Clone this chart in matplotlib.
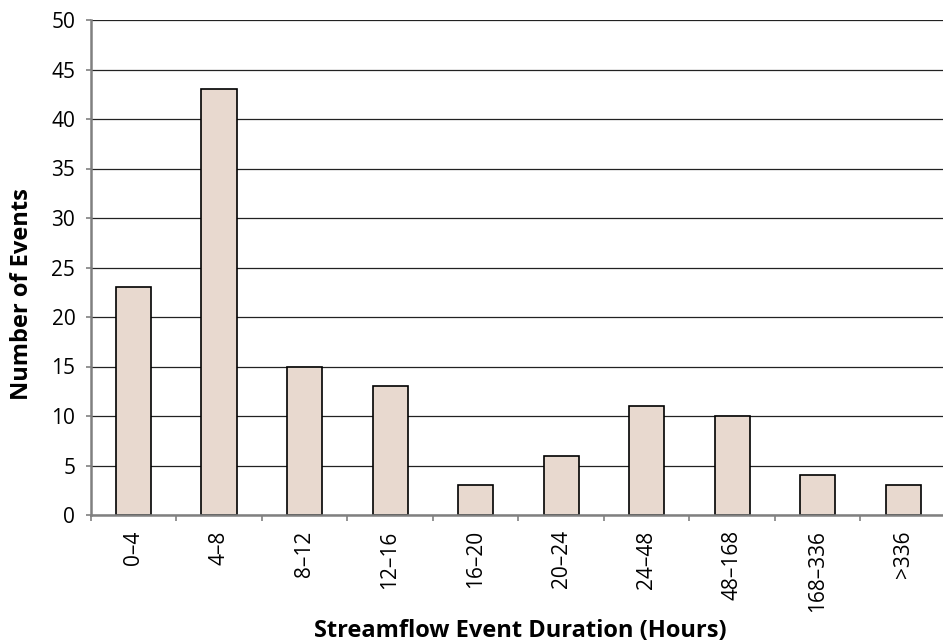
import matplotlib.pyplot as plt
import numpy as np

categories = ['0\u20134', '4\u20138', '8\u201312', '12\u201316', '16\u201320', '20\u201324',
              '24\u201348', '48\u2013168', '168\u2013336', '>336']
events = [23, 43, 15, 13, 3, 6, 11, 10, 4, 3]
yticks = [0, 5, 10, 15, 20, 25, 30, 35, 40, 45, 50]

plt.rcParams['font.family'] = ['Open Sans', 'DejaVu Sans']

fig = plt.figure(figsize=(9.43, 6.44), dpi=100)
ax_left, ax_w = 90.7, 946 - 90.7
ax = fig.add_axes([ax_left / 943, 129 / 644, ax_w / 943, 495 / 644])

x = np.arange(len(categories))
ax.bar(x, events, width=0.41, color='#e8d9cf', edgecolor='black', linewidth=1.2, zorder=3)

ax.set_xlim(-0.5, len(categories) - 0.5)
ax.set_ylim(0, 50)
ax.set_yticks(yticks)
ax.yaxis.grid(True, color='#222222', linewidth=0.9, zorder=0)

ax.set_xticks(x)
ax.set_xticklabels(categories, rotation=90, fontsize=15)
ax.tick_params(axis='x', length=0, pad=11)
ax.set_xticks(np.arange(len(categories)) - 0.5, minor=True)
ax.tick_params(axis='x', which='minor', length=4.3, color='#808080', width=1.2)
ax.tick_params(axis='y', labelsize=15, length=3.6, color='#808080', width=1.2, pad=7.5)

for s in ['top', 'right']:
    ax.spines[s].set_visible(False)
for s in ['left', 'bottom']:
    ax.spines[s].set_color('#808080')
    ax.spines[s].set_linewidth(1.8)
    ax.spines[s].set_zorder(4)

ax.set_ylabel('Number of Events', fontsize=17, fontweight='bold')
ax.yaxis.set_label_coords((34 - ax_left) / ax_w, (515 - 294) / 495)
ax.set_xlabel('Streamflow Event Duration (Hours)', fontsize=17, fontweight='bold')
ax.xaxis.set_label_coords((520 - ax_left) / ax_w, (515 - 619) / 495)

fig.savefig('out.png', dpi=100)
